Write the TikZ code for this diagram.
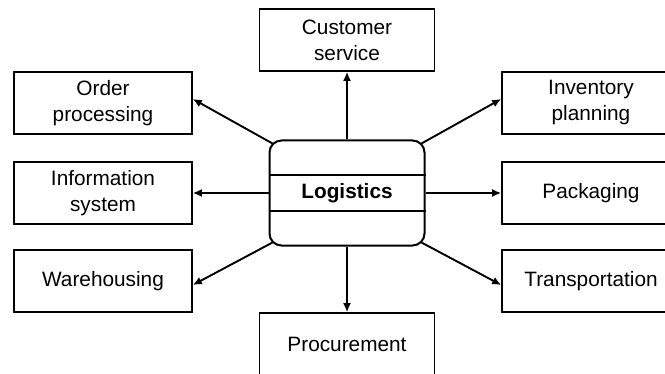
\documentclass[tikz,border=0pt]{standalone}
\usepackage{fontspec}
\setmainfont{Liberation Sans}
\usetikzlibrary{arrows.meta}

\begin{document}
\begin{tikzpicture}[x=1pt,y=1pt,
        box/.style={draw,line width=1.6pt,minimum width=178pt,minimum height=62pt,inner sep=0pt,align=center,font=\fontsize{20.8}{26}\selectfont},
        hub/.style={draw,line width=2pt,rounded corners=12pt,minimum width=155pt,minimum height=105pt,inner sep=0pt,font=\fontsize{20.8}{26}\selectfont\bfseries},
        arr/.style={line width=1.9pt,-{Latex[length=9pt,width=8pt]}}]
        \useasboundingbox (0, 0) rectangle (665, 373);
        \clip (0, 0) rectangle (665, 373);
        \node[hub] (logi) at (347, 180) {Logistics};
        \draw[line width=1.6pt] ([yshift=18pt]logi.west) -- ([yshift=18pt]logi.east);
        \draw[line width=1.6pt] ([yshift=-18pt]logi.west) -- ([yshift=-18pt]logi.east);
        \node[box,minimum width=175pt] (cust) at (347, 333) {Customer\\service};
        \node[box,minimum width=175pt] (proc) at (347, 29) {Procurement};
        \node[box] (order) at (103, 270) {Order\\processing};
        \node[box] (info) at (103, 180) {Information\\system};
        \node[box] (ware) at (103, 92) {Warehousing};
        \node[box] (inv) at (591, 270) {Inventory\\planning};
        \node[box] (pack) at (591, 180) {Packaging};
        \node[box] (trans) at (591, 92) {Transportation};
        \coordinate (nw) at ([xshift=4pt,yshift=-4pt]logi.north west);
        \coordinate (ne) at ([xshift=-4pt,yshift=-4pt]logi.north east);
        \coordinate (sw) at ([xshift=4pt,yshift=4pt]logi.south west);
        \coordinate (se) at ([xshift=-4pt,yshift=4pt]logi.south east);
        \draw[arr] (logi.north) -- (cust.south);
        \draw[arr] (logi.south) -- (proc.north);
        \draw[arr] (logi.west) -- (info.east);
        \draw[arr] (logi.east) -- (pack.west);
        \draw[arr] (nw) -- ([yshift=4pt]order.east);
        \draw[arr] (ne) -- ([yshift=4pt]inv.west);
        \draw[arr] (sw) -- ([yshift=-4pt]ware.east);
        \draw[arr] (se) -- ([yshift=-4pt]trans.west);
    \end{tikzpicture}
\end{document}
